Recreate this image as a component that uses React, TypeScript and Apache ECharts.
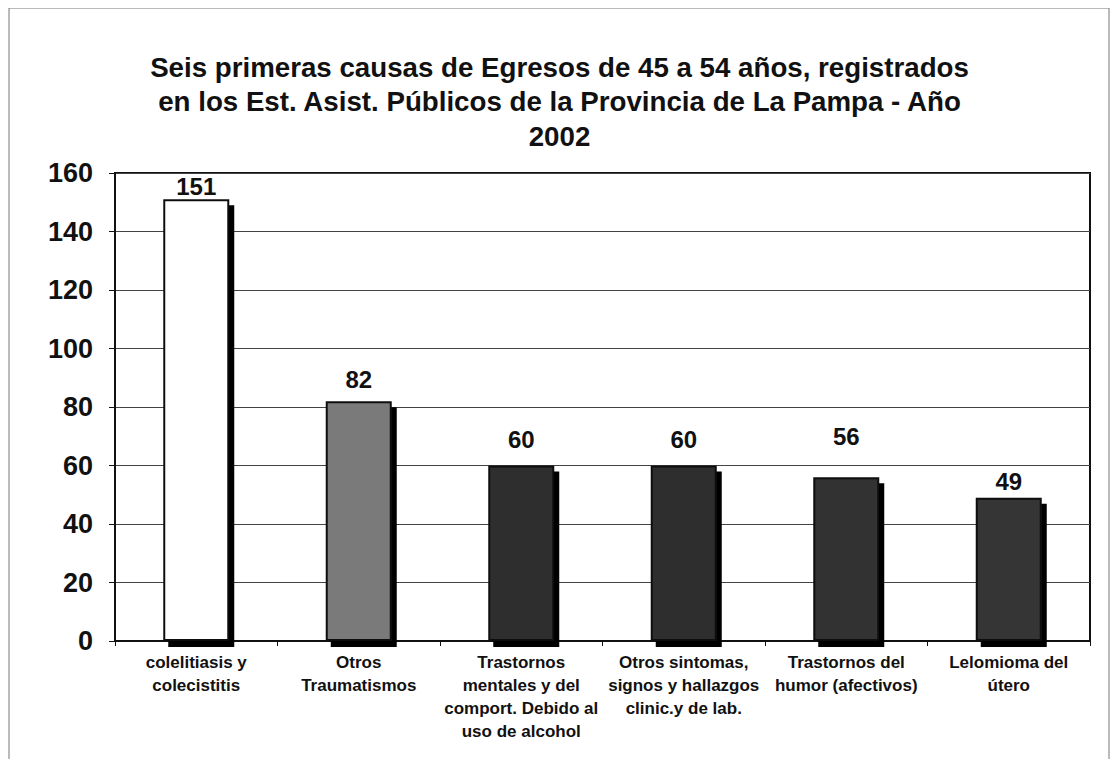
import React, { useEffect, useRef } from "react";
import * as echarts from "echarts";

const categories = [
  "colelitiasis y\ncolecistitis",
  "Otros\nTraumatismos",
  "Trastornos\nmentales y del\ncomport. Debido al\nuso de alcohol",
  "Otros sintomas,\nsignos y hallazgos\nclinic.y de lab.",
  "Trastornos del\nhumor (afectivos)",
  "Lelomioma del\nútero",
];
const values = [151, 82, 60, 60, 56, 49];
const barColors = ["#ffffff", "#7a7a7a", "#2e2e2e", "#2e2e2e", "#303030", "#363636"];
const labelGaps = [1, 10, 14, 14, 29, 4];
const titleText =
  "Seis primeras causas de Egresos de 45 a 54 años, registrados\nen los Est. Asist. Públicos de la Provincia de La Pampa - Año\n2002";

export default function App() {
  const ref = useRef<HTMLDivElement>(null);
  useEffect(() => {
    if (!ref.current) return;
    const chart = echarts.init(ref.current, null, { renderer: "svg" });
    const font = "'Liberation Sans', Arial, sans-serif";
    chart.setOption({
      animation: false,
      backgroundColor: "#ffffff",
      title: {
        text: titleText,
        left: "center",
        top: 37,
        textStyle: {
          fontFamily: font,
          fontWeight: "bold",
          fontSize: 27.7,
          lineHeight: 34.5,
          color: "#111",
        },
      },
      graphic: [
        {
          type: "rect",
          shape: { x: 1, y: 0, width: 1100, height: 752 },
          style: { fill: "none", stroke: "#777", lineWidth: 1 },
          silent: true,
        },
      ],
      grid: {
        left: 107,
        right: 21,
        top: 165,
        bottom: 118,
        show: true,
        borderColor: "#111",
        borderWidth: 2,
      },
      xAxis: {
        type: "category",
        data: categories,
        axisLine: { lineStyle: { color: "#111", width: 2 } },
        axisTick: { show: true, length: 5, lineStyle: { color: "#111" } },
        axisLabel: {
          interval: 0,
          fontFamily: font,
          fontWeight: "bold",
          fontSize: 17,
          lineHeight: 23,
          color: "#111",
          margin: 10,
        },
      },
      yAxis: {
        type: "value",
        min: 0,
        max: 160,
        interval: 20,
        axisLine: { show: true, lineStyle: { color: "#111", width: 2 } },
        axisTick: { show: true, length: 6, lineStyle: { color: "#111" } },
        splitLine: { lineStyle: { color: "#444", width: 1 } },
        axisLabel: {
          fontFamily: font,
          fontWeight: "bold",
          fontSize: 27,
          color: "#111",
          margin: 22,
        },
      },
      series: [
        {
          type: "bar",
          data: values.map((v, i) => ({
            value: v,
            itemStyle: { color: barColors[i] },
            label: { distance: labelGaps[i] },
          })),
          barWidth: 66,
          itemStyle: {
            borderColor: "#111",
            borderWidth: 2,
            shadowColor: "#000",
            shadowBlur: 0,
            shadowOffsetX: 5,
            shadowOffsetY: 6,
          },
          label: {
            show: true,
            position: "top",
            fontFamily: font,
            fontWeight: "bold",
            fontSize: 24,
            color: "#111",
          },
        },
      ],
    });
    return () => chart.dispose();
  }, []);
  return <div ref={ref} style={{ width: 1103, height: 751 }} />;
}
